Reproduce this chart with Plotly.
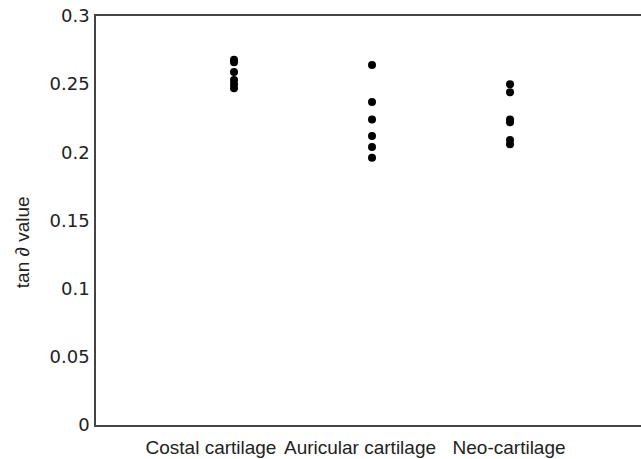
import plotly.graph_objects as go

categories = ["Costal cartilage", "Auricular cartilage", "Neo-cartilage"]
label_positions = [-0.167, 0.913, 1.993]
costal = [0.268, 0.266, 0.259, 0.253, 0.250, 0.247]
auricular = [0.264, 0.237, 0.224, 0.212, 0.204, 0.196]
neo = [0.250, 0.244, 0.224, 0.222, 0.209, 0.206]
y_ticks = [0, 0.05, 0.1, 0.15, 0.2, 0.25, 0.3]
y_tick_labels = ["0", "0.05", "0.1", "0.15", "0.2", "0.25", "0.3"]

series = [costal, auricular, neo]
fig = go.Figure()
for i, vals in enumerate(series):
    fig.add_trace(go.Scatter(
        x=[i] * len(vals), y=vals, mode="markers",
        marker=dict(color="black", size=8),
        showlegend=False, hoverinfo="y"))

fig.update_layout(
    width=641, height=459,
    margin=dict(l=96, r=0, t=16, b=34),
    plot_bgcolor="white", paper_bgcolor="white",
    font=dict(family="Liberation Sans, Arial, sans-serif", size=18, color="#222"),
    xaxis=dict(range=[-1, 2.949], tickvals=label_positions, ticktext=categories,
               showgrid=False, zeroline=False, showline=True, mirror=True,
               linecolor="#444", linewidth=1.5,
               ticks="outside", ticklen=4, tickcolor="rgba(0,0,0,0)",
               tickfont=dict(size=19)),
    yaxis=dict(range=[0, 0.3], tickvals=y_ticks, ticktext=y_tick_labels,
               showgrid=False, zeroline=False, showline=True, mirror=False,
               linecolor="#444", linewidth=1.5,
               ticks="outside", ticklen=1, tickcolor="rgba(0,0,0,0)",
               ticklabeloverflow="allow",
               tickfont=dict(family="DejaVu Sans, sans-serif", size=18)),
    annotations=[dict(text="tan ∂ value", xref="paper", yref="paper",
                      x=-0.1358, y=0.447, xanchor="center", yanchor="middle",
                      textangle=-90, showarrow=False, font=dict(size=19))],
)
fig.write_html("out.html", config={"displayModeBar": False},
               post_script="document.body.style.margin='0';")
